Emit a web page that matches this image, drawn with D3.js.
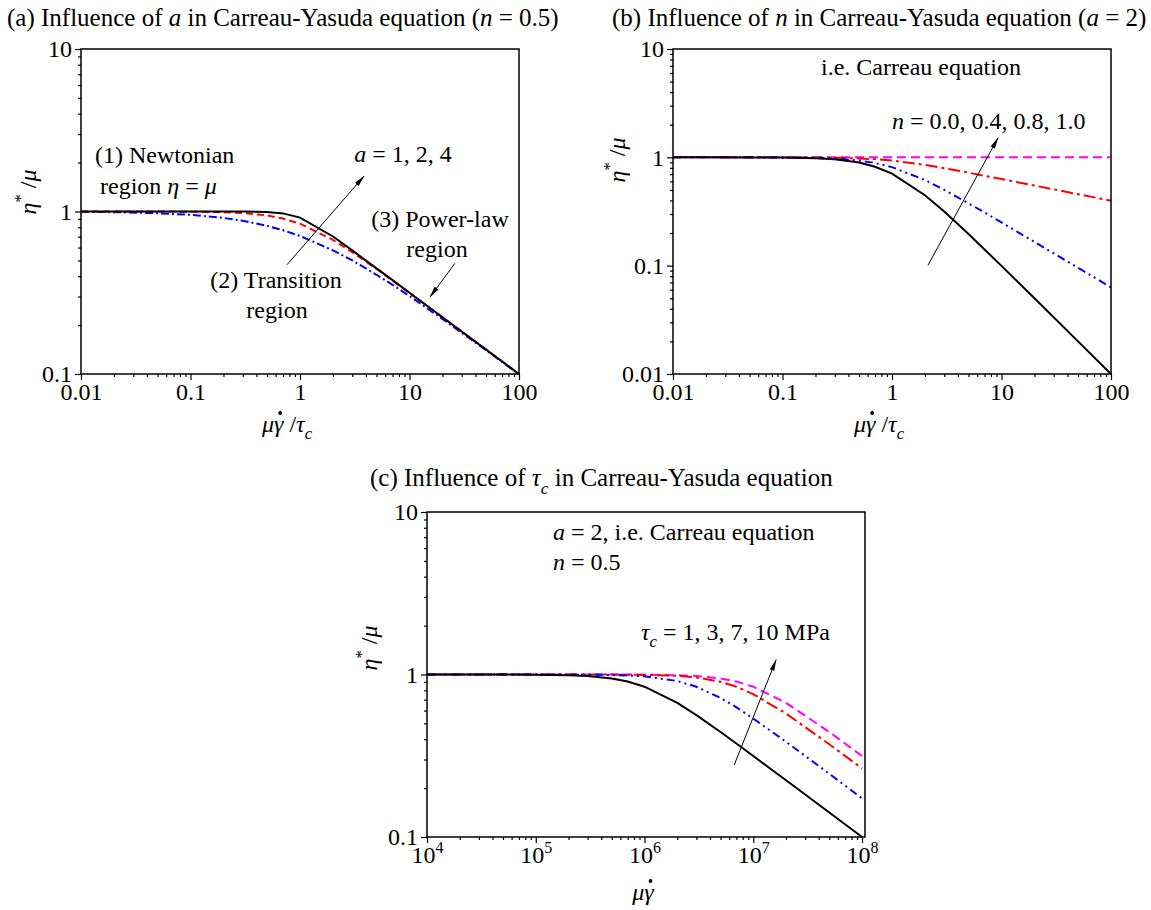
<!DOCTYPE html>
<html>
<head>
<meta charset="utf-8">
<script src="https://cdnjs.cloudflare.com/ajax/libs/d3/7.8.5/d3.min.js"></script>
<style>
  body { margin: 0; background: #fff; }
  text { font-family: "Liberation Serif", "Times New Roman", serif; fill: #000; }
</style>
</head>
<body>
<svg id="chart" width="1151" height="910"></svg>
<script>
// shear-rate samples (dimensionless for a, b; absolute for c)
const xsAB = [0.01, 0.02, 0.05, 0.1, 0.2, 0.3, 0.5, 0.7, 1, 2, 3, 5, 7, 10, 20, 50, 100];
const xsC = [1e4, 2e4, 5e4, 1e5, 2e5, 3e5, 5e5, 7e5, 1e6, 2e6, 3e6, 5e6, 7e6, 1e7, 2e7, 5e7, 1e8];

// (a) influence of a, n = 0.5
const aOne  = [0.995, 0.990, 0.976, 0.953, 0.913, 0.877, 0.816, 0.767, 0.707, 0.577, 0.500, 0.408, 0.354, 0.302, 0.218, 0.140, 0.0995];
const aTwo  = [1, 0.9999, 0.9994, 0.9975, 0.990, 0.979, 0.946, 0.905, 0.841, 0.669, 0.562, 0.443, 0.376, 0.315, 0.2235, 0.1414, 0.1];
const aFour = [1, 1, 1, 1, 0.9998, 0.999, 0.9925, 0.9735, 0.917, 0.702, 0.576, 0.447, 0.378, 0.316, 0.2236, 0.1414, 0.1];

// (b) influence of n, a = 2
const nZero  = [1, 0.9998, 0.9988, 0.995, 0.981, 0.958, 0.894, 0.819, 0.707, 0.447, 0.316, 0.196, 0.141, 0.0995, 0.050, 0.020, 0.010];
const nFour  = [1, 0.9999, 0.9993, 0.997, 0.988, 0.9745, 0.935, 0.887, 0.812, 0.617, 0.501, 0.376, 0.310, 0.2506, 0.1657, 0.0956, 0.0631];
const nEight = [1, 1, 0.9998, 0.999, 0.996, 0.9914, 0.978, 0.961, 0.933, 0.851, 0.794, 0.722, 0.676, 0.630, 0.549, 0.457, 0.398];
const nOne   = [1, 1, 1, 1, 1, 1, 1, 1, 1, 1, 1, 1, 1, 1, 1, 1, 1];

// (c) influence of tau_c (MPa), a = 2, n = 0.5
const tau1  = [1, 0.9999, 0.9994, 0.9975, 0.990, 0.979, 0.946, 0.905, 0.841, 0.669, 0.562, 0.443, 0.376, 0.315, 0.2235, 0.1414, 0.1];
const tau3  = [1, 1, 0.9999, 0.9997, 0.9989, 0.9975, 0.9932, 0.9868, 0.974, 0.912, 0.841, 0.717, 0.628, 0.536, 0.385, 0.245, 0.173];
const tau7  = [1, 1, 1, 1, 0.9998, 0.9995, 0.9987, 0.9975, 0.995, 0.981, 0.959, 0.902, 0.841, 0.757, 0.575, 0.372, 0.264];
const tau10 = [1, 1, 1, 1, 0.9999, 0.9998, 0.9994, 0.9988, 0.9975, 0.990, 0.979, 0.946, 0.905, 0.841, 0.669, 0.443, 0.315];

const xTicksAB = [0.01, 0.1, 1, 10, 100];
const xTicksC = [1e4, 1e5, 1e6, 1e7, 1e8];
const yTicksA = [0.1, 1, 10];
const yTicksB = [0.01, 0.1, 1, 10];

const FS = 24;
const svg = d3.select('#chart');

svg.append('defs').append('marker')
    .attr('id', 'head')
    .attr('viewBox', '0 0 12 6')
    .attr('refX', 11).attr('refY', 3)
    .attr('markerWidth', 12).attr('markerHeight', 6)
    .attr('markerUnits', 'userSpaceOnUse')
    .attr('orient', 'auto')
    .append('path').attr('d', 'M0,0.6 L12,3 L0,5.4 Z').attr('fill', '#000');

// write a line of mixed text: parts = [[str, style]], style in '', 'i', 'isub', 'sup'
function rich(g, x, y, parts, size, anchor) {
    let t = g.append('text').attr('x', x).attr('y', y)
        .attr('font-size', size).attr('text-anchor', anchor || 'start');
    let shift = 0;
    parts.forEach(p => {
        let s = p[1] || '';
        let want = s.includes('sub') ? size * 0.3 : (s === 'sup' ? -size * 0.4 : 0);
        let ts = t.append('tspan').text(p[0]);
        if (want !== shift) { ts.attr('dy', want - shift); shift = want; }
        if (s.includes('i')) ts.attr('font-style', 'italic');
        if (s.includes('sub') || s === 'sup') ts.attr('font-size', size * 0.7);
    });
    return t;
}

function logTicks(lo, hi) {
    let out = [];
    for (let e = Math.floor(Math.log10(lo)); e < Math.ceil(Math.log10(hi)); e++) {
        for (let k = 2; k < 10; k++) {
            let v = k * Math.pow(10, e);
            if (v > lo && v < hi) out.push(v);
        }
    }
    return out;
}

function panel(cfg) {
    let g = svg.append('g').attr('transform', `translate(${cfg.left},${cfg.top})`);
    let w = 438, h = 325;
    let x = d3.scaleLog().domain(cfg.xDomain).range([0, w]);
    let y = d3.scaleLog().domain(cfg.yDomain).range([h, 0]);

    let xMajor = d3.axisBottom(x).tickValues(cfg.xTicks).tickSize(6).tickSizeOuter(0)
        .tickFormat(d => String(d));
    let xMinor = d3.axisBottom(x).tickValues(logTicks(cfg.xDomain[0], cfg.xDomain[1]))
        .tickSize(3).tickSizeOuter(0).tickFormat('');
    let yMajor = d3.axisLeft(y).tickValues(cfg.yTicks).tickSize(6).tickSizeOuter(0)
        .tickFormat(d => String(d));
    let yMinor = d3.axisLeft(y).tickValues(logTicks(cfg.yDomain[0], cfg.yDomain[1]))
        .tickSize(3).tickSizeOuter(0).tickFormat('');

    [[xMinor, 'x', 'minor'], [xMajor, 'x', 'xmajor'], [yMinor, 'y', 'minor'], [yMajor, 'y', 'ymajor']].forEach(([ax, dir, cls]) => {
        let a = g.append('g').attr('class', cls)
            .attr('transform', dir === 'x' ? `translate(0,${h})` : null).call(ax);
        a.select('.domain').remove();
        a.selectAll('line').attr('stroke', '#000').attr('stroke-width', 1.2);
        a.selectAll('text').attr('font-size', FS).attr('font-family', '"Liberation Serif", serif')
            .attr('fill', '#000');
        if (cls === 'minor') a.selectAll('text').remove();
    });

    if (cfg.powerLabels) {
        g.selectAll('.xmajor .tick text').each(function(d) {
            let t = d3.select(this);
            t.text('');
            t.append('tspan').text('10');
            t.append('tspan').attr('dy', -10).attr('font-size', 16).text(Math.round(Math.log10(d)));
        });
    }

    let line = d3.line().x(d => x(d[0])).y(d => y(d[1]));
    cfg.series.forEach(s => {
        g.append('path')
            .datum(cfg.xs.map((v, i) => [v, s.ys[i]]))
            .attr('d', line)
            .attr('fill', 'none')
            .attr('stroke', s.color)
            .attr('stroke-width', s.width || 2)
            .attr('stroke-dasharray', s.dash || null);
    });

    g.append('rect').attr('width', w).attr('height', h)
        .attr('fill', 'none').attr('stroke', '#000').attr('stroke-width', 1.5);

    // title
    rich(svg, cfg.title.x, cfg.title.y, cfg.title.parts, 25);

    // y label, rotated
    let yl = g.append('g').attr('transform', `translate(${cfg.yLab[0]},${cfg.yLab[1]}) rotate(-90)`);
    rich(yl, 0, 0, [['η', 'i'], ['*', 'sup'], [' /', ''], ['μ', 'i']], FS, 'middle');

    // x label, rate dot drawn over the gamma
    let xl = rich(g, cfg.xLab[0], cfg.xLab[1], cfg.xLabParts, FS, 'middle');
    let node = xl.node();
    let gi = xl.text().indexOf('γ');
    let p0 = node.getStartPositionOfChar(gi), p1 = node.getEndPositionOfChar(gi);
    g.append('circle')
        .attr('cx', (p0.x + p1.x) / 2 + 1.5).attr('cy', cfg.xLab[1] - 19)
        .attr('r', 1.9).attr('fill', '#000');

    cfg.notes.forEach(n => rich(g, n.x, n.y, n.parts, FS, n.anchor || 'start'));
    cfg.arrows.forEach(a => {
        g.append('line')
            .attr('x1', x(a[0])).attr('y1', y(a[1]))
            .attr('x2', x(a[2])).attr('y2', y(a[3]))
            .attr('stroke', '#000').attr('stroke-width', 1)
            .attr('marker-end', 'url(#head)');
    });
}

// (a)
panel({
    left: 81, top: 49,
    xDomain: [0.01, 100], yDomain: [0.1, 10],
    xTicks: xTicksAB, yTicks: yTicksA, xs: xsAB,
    series: [
        { ys: aOne, color: '#0000ff', dash: '8,3,2,3' },
        { ys: aTwo, color: '#ff0000', dash: '7,4' },
        { ys: aFour, color: '#000000' }
    ],
    title: { x: 7, y: 26, parts: [['(a) Influence of ', ''], ['a', 'i'], [' in Carreau-Yasuda equation (', ''], ['n', 'i'], [' = 0.5)', '']] },
    yLab: [-45, 143],
    xLab: [206, 383], xLabParts: [['μγ', 'i'], [' /', ''], ['τ', 'i'], ['c', 'isub']],
    notes: [
        { x: 14, y: 114, parts: [['(1) Newtonian', '']] },
        { x: 19, y: 145, parts: [['region  ', ''], ['η', 'i'], [' = ', ''], ['μ', 'i']] },
        { x: 322, y: 113, parts: [['a', 'i'], [' = 1, 2, 4', '']], anchor: 'middle' },
        { x: 195, y: 239, parts: [['(2) Transition', '']], anchor: 'middle' },
        { x: 196, y: 269, parts: [['region', '']], anchor: 'middle' },
        { x: 359, y: 178, parts: [['(3) Power-law', '']], anchor: 'middle' },
        { x: 356, y: 208, parts: [['region', '']], anchor: 'middle' }
    ],
    arrows: [[0.76, 0.47, 3.84, 1.65], [26, 0.48, 15.4, 0.298]]
});

// (b)
panel({
    left: 673, top: 49,
    xDomain: [0.01, 100], yDomain: [0.01, 10],
    xTicks: xTicksAB, yTicks: yTicksB, xs: xsAB,
    series: [
        { ys: nOne, color: '#ff00ff', dash: '9,5' },
        { ys: nEight, color: '#ff0000', dash: '12,4,3,4' },
        { ys: nFour, color: '#0000ff', dash: '8,4,2,4,2,4' },
        { ys: nZero, color: '#000000' }
    ],
    title: { x: 612, y: 26, parts: [['(b) Influence of ', ''], ['n', 'i'], [' in Carreau-Yasuda equation (', ''], ['a', 'i'], [' = 2)', '']] },
    yLab: [-48, 111],
    xLab: [206, 383], xLabParts: [['μγ', 'i'], [' /', ''], ['τ', 'i'], ['c', 'isub']],
    notes: [
        { x: 248, y: 26, parts: [['i.e. Carreau equation', '']], anchor: 'middle' },
        { x: 219, y: 80, parts: [['n', 'i'], [' = 0.0, 0.4, 0.8, 1.0', '']] }
    ],
    arrows: [[2.13, 0.101, 9.29, 1.51]]
});

// (c)
panel({
    left: 427, top: 512,
    xDomain: [1e4, 1.065e8], yDomain: [0.1, 10],
    xTicks: xTicksC, yTicks: yTicksA, xs: xsC,
    powerLabels: true,
    series: [
        { ys: tau10, color: '#ff00ff', dash: '9,5' },
        { ys: tau7, color: '#ff0000', dash: '12,4,3,4' },
        { ys: tau3, color: '#0000ff', dash: '8,4,2,4,2,4' },
        { ys: tau1, color: '#000000' }
    ],
    title: { x: 370, y: 486, parts: [['(c) Influence of ', ''], ['τ', 'i'], ['c', 'isub'], [' in Carreau-Yasuda equation', '']] },
    yLab: [-50, 136],
    xLab: [216, 388], xLabParts: [['μγ', 'i']],
    notes: [
        { x: 126, y: 28, parts: [['a', 'i'], [' = 2, i.e. Carreau equation', '']] },
        { x: 126, y: 58, parts: [['n', 'i'], [' = 0.5', '']] },
        { x: 214, y: 128, parts: [['τ', 'i'], ['c', 'isub'], [' = 1, 3, 7, 10 MPa', '']] }
    ],
    arrows: [[6.67e6, 0.277, 1.62e7, 1.23]]
});
</script>
</body>
</html>
